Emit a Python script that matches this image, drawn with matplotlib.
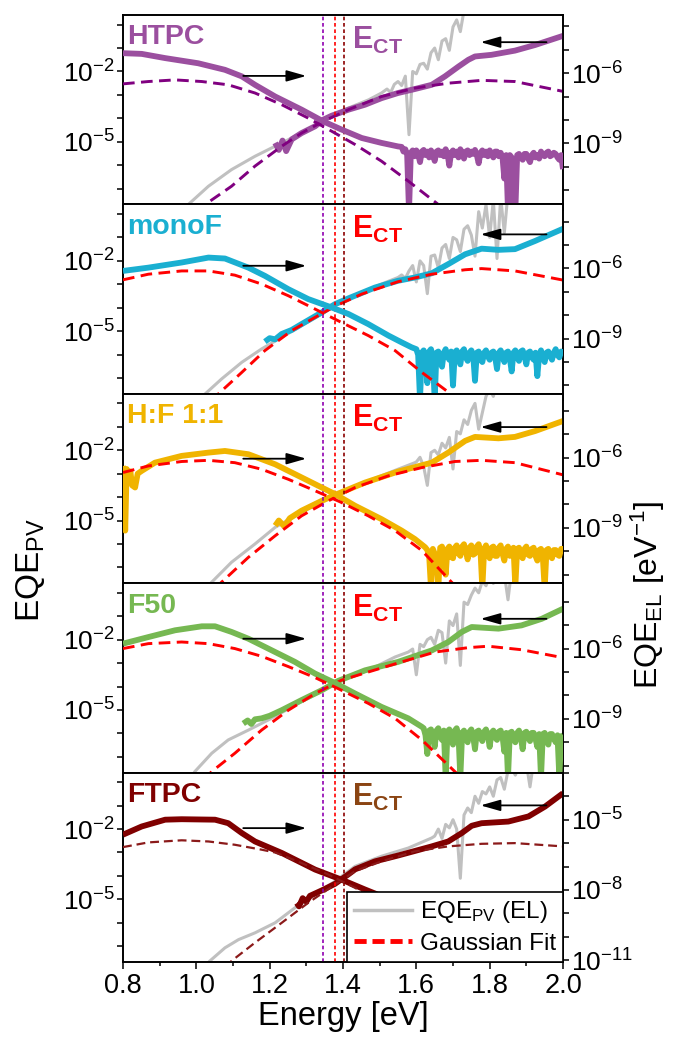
import numpy as np
import matplotlib
matplotlib.use("Agg")
import matplotlib.pyplot as plt
import matplotlib.transforms as mtransforms
from matplotlib.ticker import FixedLocator, FuncFormatter, MultipleLocator, NullLocator
from matplotlib.lines import Line2D

plt.rcParams['font.family'] = ['Liberation Sans', 'DejaVu Sans']
plt.rcParams['mathtext.fontset'] = 'custom'
plt.rcParams['mathtext.rm'] = 'Liberation Sans'
plt.rcParams['mathtext.bf'] = 'Liberation Sans:bold'
plt.rcParams['mathtext.it'] = 'Liberation Sans:italic'

# ---------------- data (log10 values) ----------------
samples = ['HTPC', 'monoF', 'H:F 1:1', 'F50', 'FTPC']
el_tail_step = 0.005
grey_tail_step = 0.01

# ---- HTPC ----
htpc_pv_e = [1.215, 1.225, 1.235, 1.245, 1.26, 1.287, 1.324, 1.346, 1.369, 1.415, 1.46, 1.505, 1.55, 1.596, 1.642, 1.678, 1.715, 1.742, 1.76, 1.805, 1.869, 1.924, 2.0]
htpc_pv_log = [-5.05, -5.35, -4.95, -5.4, -4.9, -4.63, -4.34, -4.06, -3.89, -3.63, -3.42, -3.14, -2.92, -2.75, -2.57, -2.21, -1.79, -1.5, -1.36, -1.29, -1.11, -0.87, -0.48]
htpc_el_e = [0.8, 0.851, 0.915, 1.005, 1.078, 1.124, 1.16, 1.215, 1.287, 1.346, 1.396, 1.451, 1.505, 1.55]
htpc_el_log = [-5.15, -5.18, -5.36, -5.58, -5.86, -6.14, -6.50, -7.00, -7.56, -8.06, -8.41, -8.77, -8.98, -9.13]
htpc_el_tail = [-9.15, -9.35, -9.25, -9.5, -11.9, -9.4, -9.3, -9.55, -9.3, -9.45,
                -9.8, -9.35, -9.28, -9.5, -9.35, -9.6, -9.3, -9.45, -9.75, -9.35,
                -9.3, -9.5, -9.35, -9.55, -9.25, -9.45, -9.95, -9.4, -9.3, -9.5,
                -9.35, -9.6, -9.25, -9.4, -9.65, -9.35, -9.3, -9.5, -9.35, -9.45,
                -9.28, -9.5, -9.85, -9.4, -9.3, -9.5, -9.35, -9.55, -9.3, -9.45,
                -9.6, -9.35, -9.35, -9.55, -9.4, -9.6, -10.5, -9.5, -11.9, -9.5,
                -9.6, -11.9, -11.9, -9.5, -9.45, -9.6, -9.7, -9.45, -9.45, -9.65,
                -9.8, -9.5, -9.4, -9.6, -9.5, -9.65, -9.35, -9.5, -9.55, -9.4,
                -9.35, -9.55, -9.5, -9.4, -9.45, -9.6, -9.7, -9.5, -10.1]
htpc_el_tail_start = 1.56
htpc_grey_e = [0.95, 0.978, 1.033, 1.096, 1.16, 1.215, 1.269, 1.324, 1.369, 1.415, 1.47, 1.505]
htpc_grey_log = [-8.1, -7.68, -6.9, -6.19, -5.62, -5.19, -4.77, -4.34, -3.89, -3.56, -3.21, -2.92]
htpc_grey_tail = [-2.75, -2.9, -2.55, -2.43, -2.6, -2.2, -4.7, -2.0, -2.1, -1.7, -1.65, -1.9,
                  -1.2, -1.0, -1.5, -0.7, -0.6, -1.1, -0.1, 0.2, -0.3, 0.6, 0.8, 1.0]
htpc_grey_tail_start = 1.52
htpc_fitpv_e = [1.0, 1.024, 1.096, 1.16, 1.233, 1.287, 1.346, 1.415, 1.505, 1.596, 1.687, 1.778, 1.869, 2.0]
htpc_fitpv_log = [-8.0, -7.68, -6.9, -6.04, -5.19, -4.63, -4.13, -3.63, -3.07, -2.71, -2.5, -2.38, -2.43, -2.85]
htpc_fitel_e = [0.8, 0.869, 0.942, 1.015, 1.087, 1.16, 1.233, 1.305, 1.369, 1.433, 1.505, 1.578, 1.66, 1.7]
htpc_fitel_log = [-6.46, -6.36, -6.29, -6.36, -6.50, -6.85, -7.35, -7.92, -8.48, -9.05, -9.76, -10.61, -11.61, -12.13]

# ---- monoF ----
monof_pv_e = [1.187, 1.2, 1.215, 1.233, 1.26, 1.287, 1.342, 1.378, 1.415, 1.487, 1.55, 1.596, 1.642, 1.687, 1.733, 1.778, 1.824, 1.869, 1.924, 2.0]
monof_pv_log = [-5.45, -5.3, -5.35, -5.12, -4.95, -4.7, -4.2, -3.85, -3.6, -3.14, -2.85, -2.71, -2.53, -2.14, -1.72, -1.48, -1.53, -1.5, -1.15, -0.63]
monof_el_e = [0.8, 0.869, 0.96, 1.033, 1.078, 1.142, 1.187, 1.251, 1.305, 1.369, 1.415, 1.469, 1.524, 1.56, 1.587]
monof_el_log = [-6.11, -5.97, -5.75, -5.54, -5.58, -5.97, -6.32, -6.89, -7.31, -7.67, -7.95, -8.38, -8.87, -9.16, -9.37]
monof_el_tail = [-9.45, -9.7, -11.6, -9.6, -9.5, -9.9, -10.9, -9.55, -9.45, -9.8,
                 -11.6, -9.6, -9.55, -9.9, -10.2, -9.6, -9.45, -9.75, -9.9, -9.55,
                 -11.0, -9.6, -9.5, -9.85, -10.1, -9.55, -9.45, -9.8, -9.95, -9.6,
                 -9.5, -9.7, -10.8, -9.6, -9.55, -9.9, -10.0, -9.6, -9.5, -9.75,
                 -9.9, -9.6, -9.55, -9.8, -10.3, -9.6, -9.5, -9.7, -10.0, -9.6,
                 -9.55, -9.85, -10.4, -9.6, -9.5, -9.8, -9.95, -9.55, -9.5, -9.75,
                 -10.1, -9.6, -9.55, -9.8, -9.9, -9.6, -10.6, -9.7, -9.5, -9.8,
                 -10.0, -9.6, -9.55, -9.75, -9.9, -9.6, -9.45, -9.7, -9.8, -9.55,
                 -9.6]
monof_el_tail_start = 1.60
monof_grey_e = [1.0, 1.024, 1.069, 1.124, 1.178, 1.233, 1.287, 1.342, 1.378, 1.433, 1.505, 1.55]
monof_grey_log = [-8.0, -7.68, -7.04, -6.33, -5.76, -5.26, -4.77, -4.27, -3.92, -3.49, -2.99, -2.71]
monof_grey_tail = [-2.6, -2.75, -2.43, -2.2, -2.9, -2.0, -2.2, -3.4, -1.8, -1.75, -2.3, -1.45,
                   -1.3, -1.9, -1.0, -1.1, -1.6, -0.65, -0.5, -0.9, -1.8, 0.1, -0.6, 0.4,
                   -1.0, 0.6, -1.9, 0.7, -0.8, 0.9, 1.0]
monof_grey_tail_start = 1.56
monof_fitpv_e = [1.04, 1.06, 1.124, 1.187, 1.26, 1.324, 1.378, 1.451, 1.55, 1.642, 1.733, 1.778, 1.869, 2.0]
monof_fitpv_log = [-8.0, -7.68, -6.76, -5.83, -4.98, -4.41, -3.94, -3.42, -2.89, -2.57, -2.38, -2.33, -2.43, -2.82]
monof_fitel_e = [0.8, 0.869, 0.96, 1.033, 1.105, 1.178, 1.251, 1.324, 1.396, 1.469, 1.542, 1.615, 1.687, 1.72]
monof_fitel_log = [-6.49, -6.25, -6.11, -6.11, -6.29, -6.67, -7.17, -7.74, -8.31, -8.87, -9.51, -10.44, -11.28, -11.78]

# ---- H:F 1:1 ----
hf_pv_e = [1.215, 1.225, 1.24, 1.255, 1.287, 1.342, 1.387, 1.46, 1.55, 1.642, 1.687, 1.733, 1.76, 1.824, 1.869, 1.924, 2.0]
hf_pv_log = [-5.22, -5.0, -5.25, -4.9, -4.58, -4.16, -3.85, -3.38, -2.91, -2.53, -2.1, -1.6, -1.43, -1.49, -1.43, -1.18, -0.75]
hf_el_e = [0.8, 0.803, 0.806, 0.81, 0.815, 0.82, 0.825, 0.833, 0.84, 0.851, 0.887, 0.96, 1.033, 1.078, 1.142, 1.215, 1.287, 1.342, 1.378, 1.433, 1.505, 1.56, 1.596, 1.624]
hf_el_log = [-6.36, -6.69, -9.12, -6.49, -6.99, -6.59, -7.19, -7.28, -6.69, -6.57, -6.22, -5.93, -5.79, -5.72, -5.86, -6.29, -6.85, -7.28, -7.56, -8.06, -8.63, -9.12, -9.48, -9.83]
hf_el_tail = [-9.95, -10.2, -11.6, -9.9, -10.1, -10.3, -11.6, -9.85, -9.8, -10.2,
              -11.0, -9.9, -9.8, -10.25, -10.3, -9.85, -9.75, -10.1, -10.2, -9.8,
              -9.7, -10.0, -10.35, -9.85, -9.75, -10.15, -10.1, -9.8, -9.7, -10.0,
              -11.6, -9.9, -9.75, -10.1, -10.3, -9.85, -9.8, -10.2, -10.2, -9.85,
              -9.75, -10.1, -10.4, -9.9, -9.8, -10.2, -10.1, -9.85, -11.5, -9.9,
              -9.85, -10.2, -10.3, -9.9, -9.8, -10.15, -10.2, -9.9, -9.85, -10.2,
              -10.4, -9.95, -9.9, -10.25, -11.6, -9.95, -9.9, -10.2, -10.3, -9.95,
              -9.95, -10.15, -10.2, -9.9, -9.9]
hf_el_tail_start = 1.63
hf_grey_e = [1.02, 1.042, 1.096, 1.16, 1.215, 1.287, 1.342, 1.396, 1.469, 1.55, 1.596]
hf_grey_log = [-8.0, -7.63, -6.78, -6.0, -5.29, -4.65, -4.16, -3.76, -3.31, -2.81, -2.53]
hf_grey_tail = [-2.5, -2.3, -2.7, -3.5, -2.1, -2.0, -2.2, -1.7, -1.9, -1.45, -2.8, -1.2,
                -1.3, -0.7, -0.9, -0.3, 0.0, -1.1, -0.4, 0.3, 0.6, 0.3, 0.9]
hf_grey_tail_start = 1.60
hf_fitpv_e = [1.05, 1.069, 1.142, 1.215, 1.287, 1.36, 1.433, 1.524, 1.615, 1.705, 1.778, 1.869, 2.0]
hf_fitpv_log = [-7.9, -7.63, -6.57, -5.65, -4.8, -4.16, -3.59, -3.09, -2.74, -2.48, -2.43, -2.53, -3.05]
hf_fitel_e = [0.8, 0.869, 0.96, 1.033, 1.105, 1.178, 1.251, 1.324, 1.396, 1.469, 1.542, 1.615, 1.696, 1.72]
hf_fitel_log = [-6.64, -6.36, -6.17, -6.12, -6.22, -6.50, -6.93, -7.42, -7.92, -8.49, -9.12, -9.97, -11.32, -11.69]

# ---- F50 ----
f50_pv_e = [1.128, 1.14, 1.15, 1.16, 1.178, 1.2, 1.233, 1.287, 1.342, 1.387, 1.46, 1.55, 1.642, 1.687, 1.724, 1.751, 1.824, 1.887, 1.942, 2.0]
f50_pv_log = [-5.58, -5.45, -5.6, -5.4, -5.36, -5.25, -5.01, -4.58, -4.16, -3.76, -3.31, -2.95, -2.46, -2.1, -1.67, -1.46, -1.53, -1.39, -1.11, -0.68]
f50_el_e = [0.8, 0.869, 0.942, 1.015, 1.051, 1.096, 1.142, 1.196, 1.269, 1.324, 1.378, 1.433, 1.505, 1.578, 1.615]
f50_el_log = [-5.79, -5.51, -5.22, -5.05, -5.05, -5.29, -5.58, -6.0, -6.57, -7.07, -7.47, -7.92, -8.49, -8.98, -9.34]
f50_el_tail = [-9.4, -9.7, -10.5, -9.5, -9.45, -9.8, -10.2, -9.5, -9.4, -9.75,
               -9.9, -9.5, -11.5, -9.55, -9.45, -9.8, -10.1, -9.5, -9.4, -9.7,
               -11.5, -9.6, -9.5, -9.85, -10.0, -9.55, -9.45, -9.75, -10.3, -9.55,
               -9.5, -9.8, -9.95, -9.55, -9.45, -9.7, -10.2, -9.6, -9.5, -9.8,
               -9.9, -9.55, -9.5, -9.75, -10.4, -9.6, -11.5, -9.6, -9.55, -9.85,
               -10.0, -9.6, -9.5, -9.8, -10.3, -9.6, -9.55, -9.8, -9.95, -9.6,
               -9.6, -9.85, -10.2, -9.65, -11.5, -9.65, -9.6, -9.9, -10.1, -9.65,
               -9.65, -9.85, -10.0, -9.7, -11.5, -9.75, -9.7]
f50_el_tail_start = 1.62
f50_grey_e = [0.98, 0.996, 1.042, 1.087, 1.142, 1.196, 1.269, 1.342, 1.396, 1.469, 1.542, 1.578]
f50_grey_log = [-8.0, -7.63, -6.85, -6.28, -5.86, -5.43, -4.8, -4.19, -3.73, -3.31, -2.74, -2.53]
f50_grey_tail = [-2.4, -3.5, -2.2, -2.3, -2.0, -1.9, -2.2, -1.6, -1.7, -3.0, -1.2, -1.4,
                 -0.9, -3.1, -0.4, -0.5, -0.1, 0.2, 0.0, 0.5, 0.3, 0.7, 0.4, 0.9,
                 0.6, 0.8, -0.3, 1.0]
f50_grey_tail_start = 1.59
f50_fitpv_e = [1.02, 1.042, 1.105, 1.178, 1.251, 1.324, 1.396, 1.469, 1.56, 1.651, 1.742, 1.796, 1.887, 2.0]
f50_fitpv_log = [-8.0, -7.63, -6.85, -5.86, -5.01, -4.3, -3.73, -3.38, -2.95, -2.53, -2.34, -2.28, -2.43, -2.77]
f50_fitel_e = [0.8, 0.869, 0.96, 1.033, 1.105, 1.178, 1.251, 1.324, 1.396, 1.469, 1.542, 1.615, 1.705, 1.73]
f50_fitel_log = [-6.0, -5.79, -5.72, -5.79, -6.0, -6.33, -6.77, -7.24, -7.78, -8.34, -8.98, -9.9, -11.25, -11.62]

# ---- FTPC ----
ftpc_pv_e = [1.274, 1.28, 1.29, 1.30, 1.31, 1.342, 1.378, 1.415, 1.433, 1.487, 1.55, 1.642, 1.687, 1.724, 1.751, 1.778, 1.851, 1.906, 1.951, 2.0]
ftpc_pv_log = [-5.16, -5.3, -4.95, -5.1, -4.85, -4.62, -4.34, -3.93, -3.72, -3.38, -3.13, -2.74, -2.53, -2.17, -1.86, -1.75, -1.68, -1.46, -1.04, -0.47]
ftpc_el_e = [0.8, 0.851, 0.915, 0.96, 1.051, 1.087, 1.124, 1.16, 1.233, 1.324, 1.396, 1.46, 1.487, 1.55, 1.65]
ftpc_el_log = [-5.64, -5.29, -5.0, -4.98, -5.0, -5.15, -5.57, -5.93, -6.42, -7.13, -7.56, -7.98, -8.15, -8.6, -9.3]
ftpc_el_tail = []
ftpc_el_tail_start = 1.66
ftpc_grey_e = [1.02, 1.037, 1.078, 1.115, 1.16, 1.215, 1.269, 1.324, 1.378, 1.433, 1.505, 1.578, 1.642]
ftpc_grey_log = [-7.9, -7.63, -7.07, -6.72, -6.43, -6.0, -5.36, -4.8, -4.23, -3.59, -3.16, -2.81, -2.38]
ftpc_grey_tail = [-2.3, -2.0, -2.4, -1.8, -1.95, -1.6, -2.0, -4.1, -1.4, -1.1, -1.3, -0.6,
                  -0.9, -0.4, -0.5, -0.2, -0.6, 0.1, 0.2, -0.3, 0.5, 0.6, 0.3, 0.7,
                  0.5, 0.8, -0.2, 0.9]
ftpc_grey_tail_start = 1.65
ftpc_fitpv_e = [1.08, 1.096, 1.16, 1.233, 1.305, 1.378, 1.433, 1.505, 1.596, 1.687, 1.778, 1.869, 2.0]
ftpc_fitpv_log = [-7.9, -7.63, -6.85, -6.0, -5.15, -4.37, -3.8, -3.38, -2.95, -2.74, -2.63, -2.6, -2.74]
ftpc_fitel_e = [0.8, 0.869, 0.96, 1.033, 1.105, 1.178, 1.215, 1.287, 1.36, 1.433, 1.505, 1.6]
ftpc_fitel_log = [-6.17, -5.97, -5.88, -5.93, -6.07, -6.28, -6.4, -6.85, -7.34, -7.91, -8.55, -9.4]

# E_CT markers (eV)
ect_lines = [1.346, 1.378, 1.404]

# ---------------- styles ----------------
main_colors = ['#9B4F9F', '#1AAFD1', '#F0B400', '#76B852', '#800000']
fit_colors = ['#800080', '#FF0000', '#FF0000', '#FF0000', '#8B1A1A']
ect_colors = ['#9B4F9F', '#FF0000', '#FF0000', '#FF0000', '#8B4513']
fit_lw = [2.1, 2.1, 2.1, 2.1, 1.6]
vline_colors = ['#9000B0', '#FF0000', '#8B0000']
grey = '#C0C0C0'
left_lim = (10 ** -7.675, 10 ** 0.41)
right_offset = [-3.93, -3.68, -3.69, -3.62, -3.4]
right_labels = [(-6, -9), (-6, -9), (-6, -9), (-6, -9), (-5, -8, -11)]
arrow_r_y = [-2.19, -2.21, -2.36, -1.96, -1.96]
arrow_l_y = [-0.75, -0.87, -1.01, -1.11, -0.99]

data = {
    'HTPC': (htpc_pv_e, htpc_pv_log, htpc_el_e, htpc_el_log, htpc_el_tail, htpc_el_tail_start,
             htpc_grey_e, htpc_grey_log, htpc_grey_tail, htpc_grey_tail_start,
             htpc_fitpv_e, htpc_fitpv_log, htpc_fitel_e, htpc_fitel_log),
    'monoF': (monof_pv_e, monof_pv_log, monof_el_e, monof_el_log, monof_el_tail, monof_el_tail_start,
              monof_grey_e, monof_grey_log, monof_grey_tail, monof_grey_tail_start,
              monof_fitpv_e, monof_fitpv_log, monof_fitel_e, monof_fitel_log),
    'H:F 1:1': (hf_pv_e, hf_pv_log, hf_el_e, hf_el_log, hf_el_tail, hf_el_tail_start,
                hf_grey_e, hf_grey_log, hf_grey_tail, hf_grey_tail_start,
                hf_fitpv_e, hf_fitpv_log, hf_fitel_e, hf_fitel_log),
    'F50': (f50_pv_e, f50_pv_log, f50_el_e, f50_el_log, f50_el_tail, f50_el_tail_start,
            f50_grey_e, f50_grey_log, f50_grey_tail, f50_grey_tail_start,
            f50_fitpv_e, f50_fitpv_log, f50_fitel_e, f50_fitel_log),
    'FTPC': (ftpc_pv_e, ftpc_pv_log, ftpc_el_e, ftpc_el_log, ftpc_el_tail, ftpc_el_tail_start,
             ftpc_grey_e, ftpc_grey_log, ftpc_grey_tail, ftpc_grey_tail_start,
             ftpc_fitpv_e, ftpc_fitpv_log, ftpc_fitel_e, ftpc_fitel_log),
}


def with_tail(e, lg, tail, start, step):
    if len(tail) == 0:
        return np.array(e), np.array(lg)
    te = start + step * np.arange(len(tail))
    return np.concatenate([e, te]), np.concatenate([lg, tail])


def dec_formatter(shown):
    def f(v, pos):
        k = int(round(np.log10(v)))
        return r'$\mathregular{10^{%d}}$' % k if k in shown else ''
    return FuncFormatter(f)


W, H = 673, 1037
fig = plt.figure(figsize=(W / 100, H / 100), dpi=100)
ax_left_px, ax_right_px = 123, 563
top_px, bot_px = 15, 962
ph = (bot_px - top_px) / 5

for i, name in enumerate(samples):
    (pv_e, pv_log, el_e, el_log, el_tail, el_ts, g_e, g_log, g_tail, g_ts,
     fpv_e, fpv_log, fel_e, fel_log) = data[name]
    y0 = top_px + i * ph
    ax = fig.add_axes([ax_left_px / W, 1 - (y0 + ph) / H, (ax_right_px - ax_left_px) / W, ph / H])
    ax2 = ax.twinx()
    ax.set_xlim(0.8, 2.0)
    ax.set_yscale('log')
    ax2.set_yscale('log')
    ax.set_ylim(*left_lim)
    off = right_offset[i]
    ax2.set_ylim(left_lim[0] * 10 ** off, left_lim[1] * 10 ** off)

    ge, gl = with_tail(g_e, g_log, g_tail, g_ts, grey_tail_step)
    ax.plot(ge, 10.0 ** gl, color=grey, lw=2.2, zorder=2)
    ax.plot(pv_e, 10.0 ** np.array(pv_log), color=main_colors[i], lw=4.2, zorder=3,
            solid_capstyle='butt')
    ax.plot(fpv_e, 10.0 ** np.array(fpv_log), color=fit_colors[i], lw=fit_lw[i],
            ls=(0, (4, 2.2)), zorder=4)
    for xv, c in zip(ect_lines, vline_colors):
        ax.axvline(xv, color=c, lw=1.2, ls=(0, (2.2, 1.6)), zorder=5)

    ee, elg = with_tail(el_e, el_log, el_tail, el_ts, el_tail_step)
    ax2.plot(ee, 10.0 ** elg, color=main_colors[i], lw=4.2, zorder=3, solid_capstyle='butt')
    ax2.plot(fel_e, 10.0 ** np.array(fel_log), color=fit_colors[i], lw=fit_lw[i],
             ls=(0, (4, 2.2)), zorder=4)

    # arrows
    ax2.annotate('', xy=(1.30, 10 ** (arrow_r_y[i] + off)), xytext=(1.128, 10 ** (arrow_r_y[i] + off)),
                 arrowprops=dict(arrowstyle='-|>,head_length=0.6,head_width=0.17', color='k',
                                 lw=1.3, mutation_scale=20, shrinkA=0, shrinkB=0), zorder=6)
    ax2.annotate('', xy=(1.775, 10 ** (arrow_l_y[i] + off)), xytext=(1.955, 10 ** (arrow_l_y[i] + off)),
                 arrowprops=dict(arrowstyle='-|>,head_length=0.6,head_width=0.17', color='k',
                                 lw=1.3, mutation_scale=20, shrinkA=0, shrinkB=0), zorder=6)

    tr = mtransforms.blended_transform_factory(ax2.transData, ax2.transAxes)
    ax2.text(0.81, 0.95, name, transform=tr, color=main_colors[i], fontsize=20.5,
             fontweight='bold', va='top', ha='left', zorder=7)
    ax2.text(1.424, 0.95, r'$\mathbf{E}_{\mathbf{CT}}$', transform=tr,
             color=ect_colors[i], fontsize=22, va='top', ha='left', zorder=7)

    # ticks
    decs = [10.0 ** k for k in range(-16, 3)]
    ax.yaxis.set_major_locator(FixedLocator(decs))
    ax.yaxis.set_minor_locator(NullLocator())
    ax.yaxis.set_major_formatter(dec_formatter((-2, -5)))
    ax2.yaxis.set_major_locator(FixedLocator(decs))
    ax2.yaxis.set_minor_locator(NullLocator())
    ax2.yaxis.set_major_formatter(dec_formatter(right_labels[i]))
    ax.xaxis.set_major_locator(MultipleLocator(0.2))
    ax.xaxis.set_minor_locator(MultipleLocator(0.1))
    ax.xaxis.set_major_formatter(FuncFormatter(lambda v, p: '%.1f' % v))
    ax.tick_params(axis='y', which='major', direction='out', length=4, width=1.1, labelsize=19, pad=2)
    ax2.tick_params(axis='y', which='major', direction='out', length=4, width=1.1, labelsize=19, pad=2)
    ax.tick_params(axis='x', which='major', direction='out', length=5, width=1.1, labelsize=19.5, pad=3)
    ax.tick_params(axis='x', which='minor', direction='out', length=3, width=1.1)
    if i < 4:
        ax.tick_params(axis='x', labelbottom=False)
    for sp in list(ax.spines.values()) + list(ax2.spines.values()):
        sp.set_linewidth(1.2)

    if i == 4:
        handles = [Line2D([], [], color=grey, lw=2.5),
                   Line2D([], [], color='#FF0000', lw=3.5, ls=(0, (2.5, 1.2)))]
        leg = ax2.legend(handles, [r'EQE$_{\mathregular{PV}}$ (EL)', 'Gaussian Fit'],
                         loc='lower right', bbox_to_anchor=(1.0, 0.0), borderaxespad=0.0,
                         fontsize=17.5, frameon=True, fancybox=False, handlelength=2.4,
                         handletextpad=0.3, borderpad=0.3, labelspacing=0.3)
        leg.get_frame().set_edgecolor('black')
        leg.get_frame().set_linewidth(1.2)
        leg.get_frame().set_alpha(1.0)
        leg.set_zorder(10)
        ax.set_xlabel('Energy [eV]', fontsize=23.5, labelpad=1)

fig.text(0.045, 0.45, r'EQE$_{\mathregular{PV}}$', rotation=90, fontsize=24, ha='center', va='center')
fig.text(0.962, 0.426, r'EQE$_{\mathregular{EL}}$ [eV$^{\mathregular{-1}}$]', rotation=90, fontsize=23,
         ha='center', va='center')

fig.savefig('out.png', dpi=100)
